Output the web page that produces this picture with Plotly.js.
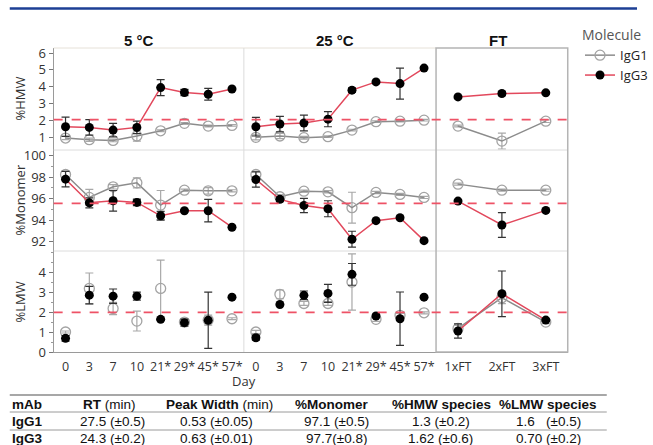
<!DOCTYPE html>
<html>
<head>
<meta charset="utf-8">
<script src="https://cdn.plot.ly/plotly-3.0.1.min.js"></script>
<style>html,body{margin:0;padding:0;background:#fff}#chart{width:653px;height:445px}</style>
</head>
<body>
<div id="chart"></div>
<script>
// ---------- DATA ----------
const days = ['0', '3', '7', '10', '21*', '29*', '45*', '57*'];
const ftCats = ['1xFT', '2xFT', '3xFT'];
const molecules = ['IgG1', 'IgG3'];

// %HMW
const hmw5_igg1 = [0.96, 0.86, 0.82, 1.08, 1.39, 1.83, 1.67, 1.71];
const hmw5_igg1_err = [0.10, 0.10, 0.08, 0.30, 0.05, 0.05, 0.05, 0.05];
const hmw5_igg3 = [1.63, 1.59, 1.43, 1.59, 3.95, 3.66, 3.56, 3.87];
const hmw5_igg3_err = [0.57, 0.46, 0.40, 0.37, 0.47, 0.19, 0.35, 0.08];
const hmw25_igg1 = [1.00, 1.08, 0.98, 1.04, 1.43, 1.93, 1.96, 2.02];
const hmw25_igg1_err = [0.15, 0.15, 0.08, 0.05, 0.05, 0.05, 0.05, 0.05];
const hmw25_igg3 = [1.63, 1.79, 1.85, 2.08, 3.80, 4.29, 4.19, 5.11];
const hmw25_igg3_err = [0.55, 0.46, 0.47, 0.45, 0.14, 0.07, 0.92, 0.05];
const hmwFT_igg1 = [1.67, 0.78, 1.96];
const hmwFT_igg1_err = [0.05, 0.47, 0.08];
const hmwFT_igg3 = [3.40, 3.60, 3.64];
const hmwFT_igg3_err = [0.08, 0.12, 0.06];

// %Monomer
const mon5_igg1 = [98.23, 96.11, 97.09, 97.46, 95.40, 96.78, 96.72, 96.72];
const mon5_igg1_err = [0.30, 0.74, 0.20, 0.46, 1.35, 0.10, 0.30, 0.10];
const mon5_igg3 = [97.80, 95.61, 95.80, 95.65, 94.41, 94.88, 94.88, 93.35];
const mon5_igg3_err = [0.72, 0.46, 0.95, 0.30, 0.41, 0.08, 1.04, 0.08];
const mon25_igg1 = [98.23, 96.17, 96.69, 96.63, 95.16, 96.57, 96.39, 96.11];
const mon25_igg1_err = [0.30, 0.20, 0.10, 0.10, 1.43, 0.10, 0.10, 0.10];
const mon25_igg3 = [97.77, 95.93, 95.37, 95.06, 92.24, 93.96, 94.23, 92.11];
const mon25_igg3_err = [0.70, 0.20, 0.66, 0.74, 0.74, 0.08, 0.15, 0.08];
const monFT_igg1 = [97.34, 96.78, 96.78];
const monFT_igg1_err = [0.10, 0.10, 0.10];
const monFT_igg3 = [95.77, 93.56, 94.91];
const monFT_igg3_err = [0.10, 1.14, 0.10];

// %LMW
const lmw5_igg1 = [1.01, 3.21, 2.20, 1.56, 3.21, 1.51, 1.61, 1.68];
const lmw5_igg1_err = [0.05, 0.78, 0.31, 0.50, 1.43, 0.10, 0.25, 0.05];
const lmw5_igg3 = [0.69, 2.87, 2.82, 2.82, 1.65, 1.48, 1.60, 2.77];
const lmw5_igg3_err = [0.14, 0.44, 0.36, 0.20, 0.05, 0.18, 1.42, 0.05];
const lmw25_igg1 = [1.01, 2.91, 2.45, 2.45, 3.53, 1.65, 1.85, 1.98];
const lmw25_igg1_err = [0.08, 0.22, 0.10, 0.10, 1.42, 0.10, 0.10, 0.05];
const lmw25_igg3 = [0.72, 2.40, 2.86, 2.96, 3.92, 1.82, 1.68, 2.77];
const lmw25_igg3_err = [0.12, 0.05, 0.22, 0.45, 0.55, 0.08, 1.35, 0.05];
const lmwFT_igg1 = [1.19, 2.74, 1.51];
const lmwFT_igg1_err = [0.15, 0.30, 0.08];
const lmwFT_igg3 = [1.06, 2.94, 1.61];
const lmwFT_igg3_err = [0.36, 1.15, 0.06];

// reference (dashed) lines
const refHMW = 2.05, refMon = 95.55, refLMW = 2.0;

// table
const tableHeader = ['mAb', '<b>RT</b> (min)', '<b>Peak Width</b> (min)', '<b>%Monomer</b>', '<b>%HMW species</b>', '<b>%LMW species</b>'];
const tableRows = [
  ['IgG1', '27.5 (±0.5)', '0.53 (±0.05)', '97.1 (±0.5)', '1.3 (±0.2)', '1.6   (±0.5)'],
  ['IgG3', '24.3 (±0.2)', '0.63 (±0.01)', '97.7(±0.8)', '1.62 (±0.6)', '0.70 (±0.2)']
];

// ---------- LAYOUT HELPERS ----------
const W = 653, H = 445;
const px = v => v / W;
const py = v => 1 - v / H;

const colX = [[55, 250], [250, 447], [447, 582]];
const rowY = [[48, 150], [150, 251], [251, 352]];
const xNames = ['x', 'x2', 'x3'];
const yNames = ['y', 'y2', 'y3'];

const C1 = '#a3a3a3', C1err = '#a8a8a8';
const C3line = '#e2485c', C3err = '#333333';

const traces = [];
function add(xi, yi, xs, y1, e1, y3, e3, lines, legend) {
  traces.push({
    type: 'scatter', x: xs, y: y1, xaxis: xNames[xi], yaxis: yNames[yi],
    mode: lines ? 'lines+markers' : 'markers', name: 'IgG1', legendgroup: 'IgG1', showlegend: !!legend,
    line: {color: '#8c8c8c', width: 1.5},
    marker: {symbol: 'circle-open', size: 10, color: C1, line: {width: 1.3, color: C1}},
    error_y: {type: 'data', array: e1, visible: true, color: C1err, thickness: 1.2, width: 4}
  });
  traces.push({
    type: 'scatter', x: xs, y: y3, xaxis: xNames[xi], yaxis: yNames[yi],
    mode: lines ? 'lines+markers' : 'markers', name: 'IgG3', legendgroup: 'IgG3', showlegend: !!legend,
    line: {color: C3line, width: 1.5},
    marker: {symbol: 'circle', size: 9, color: '#000'},
    error_y: {type: 'data', array: e3, visible: true, color: C3err, thickness: 1.2, width: 4}
  });
}
add(0, 0, days, hmw5_igg1, hmw5_igg1_err, hmw5_igg3, hmw5_igg3_err, true, true);
add(1, 0, days, hmw25_igg1, hmw25_igg1_err, hmw25_igg3, hmw25_igg3_err, true);
add(2, 0, ftCats, hmwFT_igg1, hmwFT_igg1_err, hmwFT_igg3, hmwFT_igg3_err, true);
add(0, 1, days, mon5_igg1, mon5_igg1_err, mon5_igg3, mon5_igg3_err, true);
add(1, 1, days, mon25_igg1, mon25_igg1_err, mon25_igg3, mon25_igg3_err, true);
add(2, 1, ftCats, monFT_igg1, monFT_igg1_err, monFT_igg3, monFT_igg3_err, true);
add(0, 2, days, lmw5_igg1, lmw5_igg1_err, lmw5_igg3, lmw5_igg3_err, false);
add(1, 2, days, lmw25_igg1, lmw25_igg1_err, lmw25_igg3, lmw25_igg3_err, false);
add(2, 2, ftCats, lmwFT_igg1, lmwFT_igg1_err, lmwFT_igg3, lmwFT_igg3_err, true);

const tickFont = {family: 'Open Sans, sans-serif', size: 13, color: '#333'};
const xTickFont = {family: 'Open Sans, sans-serif', size: 12.5, color: '#333'};
const layout = {
  width: W, height: H, margin: {l: 0, r: 0, t: 0, b: 0},
  paper_bgcolor: '#fff', plot_bgcolor: 'rgba(0,0,0,0)',
  showlegend: true,
  legend: {
    x: px(595), y: py(22), xanchor: 'left', yanchor: 'top',
    title: {text: 'Molecule', font: {family: 'Open Sans, sans-serif', size: 14, color: '#555'}},
    font: {family: 'Open Sans, sans-serif', size: 13, color: '#222'},
    tracegroupgap: 0, itemwidth: 30, bgcolor: 'rgba(0,0,0,0)'
  },
  shapes: [], annotations: []
};
const xRanges = [[-0.5, 7.5], [-0.5, 7.5], [-0.5, 2.5]];
const xCats = [days, days, ftCats];
for (let i = 0; i < 3; i++) {
  layout[i === 0 ? 'xaxis' : 'xaxis' + (i + 1)] = {
    domain: [px(colX[i][0]), px(colX[i][1])], anchor: 'y3', type: 'category',
    categoryorder: 'array', categoryarray: xCats[i], range: xRanges[i],
    showline: true, linecolor: '#9a9a9a', linewidth: 1, showgrid: false, zeroline: false,
    ticks: '', tickangle: 0, ticklabelstandoff: 3, tickfont: xTickFont, fixedrange: true
  };
}
const yRanges = [[0.25, 6.3], [91.15, 100.5], [0, 5.1]];
const yTicks = [[1, 2, 3, 4, 5, 6], [92, 94, 96, 98, 100], [0, 1, 2, 3, 4]];
const yMinor = [1, 1, 0.5];
for (let i = 0; i < 3; i++) {
  layout[i === 0 ? 'yaxis' : 'yaxis' + (i + 1)] = {
    domain: [py(rowY[i][1]), py(rowY[i][0])], anchor: 'x', range: yRanges[i],
    tickvals: yTicks[i], ticks: 'outside', ticklen: 4, tickcolor: '#777',
    showline: true, linecolor: '#9a9a9a', linewidth: 1, showgrid: false, zeroline: false,
    tickfont: tickFont, fixedrange: true,
    minor: {dtick: yMinor[i], ticks: 'outside', ticklen: 2, tickcolor: '#999'}
  };
}

// panel borders
const S = layout.shapes;
const hline = (x0, x1, y, color, w) => S.push({type: 'line', xref: 'paper', yref: 'paper', x0: px(x0), x1: px(x1), y0: py(y), y1: py(y), line: {color: color, width: w}});
const vline = (x, y0, y1, color, w) => S.push({type: 'line', xref: 'paper', yref: 'paper', x0: px(x), x1: px(x), y0: py(y0), y1: py(y1), line: {color: color, width: w}});
hline(55, 447, 48, '#e6e1d8', 1);
hline(55, 447, 150, '#dcdcdc', 1);
hline(55, 447, 251, '#dcdcdc', 1);
vline(250, 48, 352, '#dcdcdc', 1);
hline(447, 582, 150, '#dcdcdc', 1);
hline(447, 582, 251, '#dcdcdc', 1);
S.push({type: 'rect', xref: 'paper', yref: 'paper', x0: px(447), x1: px(582), y0: py(352), y1: py(48), line: {color: '#b4b4b4', width: 1.5}});
// dashed reference lines
[[refHMW, 'y'], [refMon, 'y2'], [refLMW, 'y3']].forEach(([v, ya]) => {
  S.push({type: 'line', xref: 'paper', yref: ya, x0: px(55), x1: px(582), y0: v, y1: v, line: {color: '#ee5266', width: 1.8, dash: 'dash'}});
});
// top blue rule
hline(10, 653, 8.5, '#1d3f95', 2.5);
// table rules
hline(10, 622, 395, '#8a8a8a', 1.5);
hline(10, 622, 412, '#9a9a9a', 1);
hline(10, 622, 430, '#9a9a9a', 1);

// annotations
const A = layout.annotations;
const ann = (x, y, text, opts) => A.push(Object.assign({xref: 'paper', yref: 'paper', x: px(x), y: py(y), text: text, showarrow: false, xanchor: 'center', yanchor: 'middle'}, opts));
const titleFont = {family: 'Liberation Sans, Arial, sans-serif', size: 15, color: '#111'};
ann(143, 40, '<b>5 °C</b>', {font: titleFont});
ann(343, 40, '<b>25 °C</b>', {font: titleFont});
ann(510, 40, '<b>FT</b>', {font: titleFont});
const axFont = {family: 'Open Sans, sans-serif', size: 13, color: '#333'};
ann(20, 99, '%HMW', {font: axFont, textangle: -90});
ann(20, 200, '%Monomer', {font: axFont, textangle: -90});
ann(20, 302, '%LMW', {font: axFont, textangle: -90});
ann(250, 381, 'Day', {font: axFont});

const tFont = {family: 'Liberation Sans, Arial, sans-serif', size: 13.5, color: '#111'};
const colCenters = [null, 112, 225, 340, 453, 562];
ann(10, 404, '<b>' + tableHeader[0] + '</b>', {font: tFont, xanchor: 'left'});
for (let c = 1; c < tableHeader.length; c++) ann(colCenters[c], 404, tableHeader[c], {font: tFont});
const valCenters = [null, 115, 222, 345, 452, 562];
tableRows.forEach((row, r) => {
  const y = 421 + r * 17;
  ann(10, y, '<b>' + row[0] + '</b>', {font: tFont, xanchor: 'left'});
  for (let c = 1; c < row.length; c++) ann(valCenters[c], y, row[c], {font: tFont});
});

Plotly.newPlot('chart', traces, layout, {staticPlot: true, displayModeBar: false});
</script>
</body>
</html>
